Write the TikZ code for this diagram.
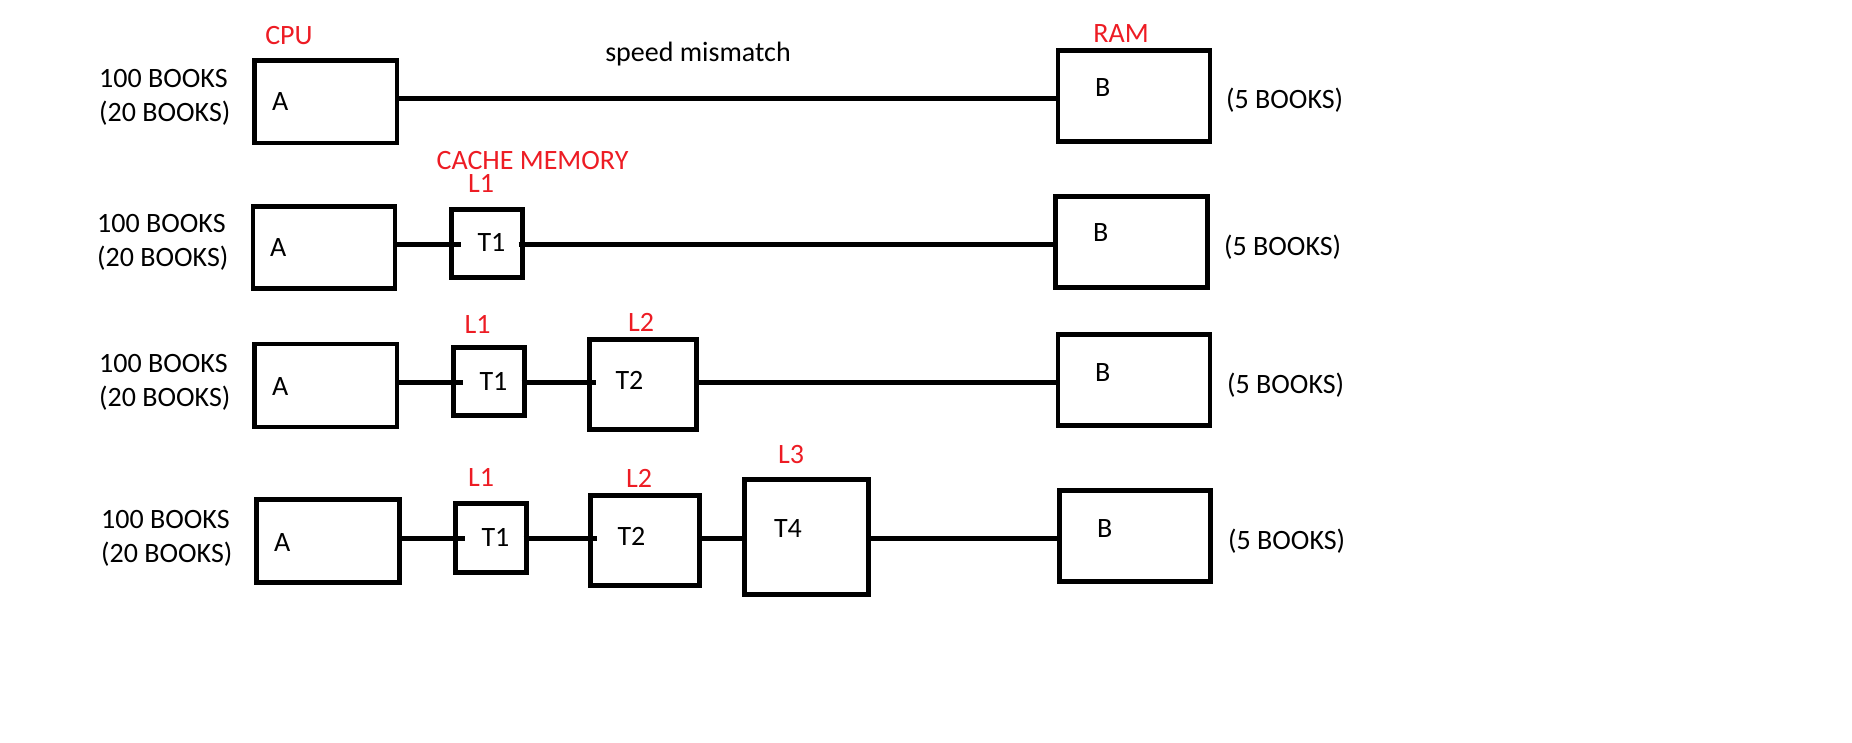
\documentclass[tikz,border=0pt]{standalone}
\usepackage{fontspec}
\setmainfont{Carlito}
\usetikzlibrary{calc}
\definecolor{paintred}{RGB}{237,28,36}

\begin{document}
\begin{tikzpicture}[x=1pt, y=-1pt,
  box/.style={draw=black, line width=4.7pt, inner sep=0pt, outer sep=0pt},
  wire/.style={draw=black, line width=4.7pt},
  txt/.style={inner sep=0pt, anchor=base west, font=\fontsize{28}{34}\selectfont},
  mid/.style={inner sep=0pt, anchor=base, font=\fontsize{28}{34}\selectfont},
  lvl/.style={mid, text=paintred}]
\useasboundingbox (0,0) rectangle (1852,743);

% left hand labels
\foreach \x/\y/\n in {99/88/1, 97/233/2, 99/372/3, 101/528/4} {
  \node[txt] (top\n) at (\x,\y) {100 BOOKS};
  \node[txt] (bot\n) at (\x,\y+34) {(20 BOOKS)};
}

% row 1 : cpu -- ram
\coordinate (r1) at (0,98.4);
\node[box, minimum width=142.5pt, minimum height=82.5pt] (a1) at (325.75,101.75) {};
\node[box, minimum width=152pt, minimum height=91pt] (b1) at (1134,96) {};
\node[txt] (a1t) at (272,111) {A};
\node[txt] (b1t) at (1095,97) {B};
\node[txt] (b1n) at (1226,109) {(5 BOOKS)};
\node[lvl] (cpu) at (289,45) {CPU};
\node[lvl] (ram) at (1121,43) {RAM};
\node[mid] (gap) at (698,62) {speed mismatch};
\draw[wire] (a1.east |- r1) -- (b1.west |- r1);

% row 2 : one cache level
\coordinate (r2) at (0,244.5);
\node[box, minimum width=142pt, minimum height=82pt] (a2) at (324,247.5) {};
\node[box, minimum width=71pt, minimum height=68pt] (c21) at (487,243.5) {};
\node[box, minimum width=152pt, minimum height=91pt] (b2) at (1131.5,242) {};
\node[txt] (a2t) at (270,257) {A};
\node[mid] (c21t) at (491.5,252) {T1};
\node[txt] (b2t) at (1093,242) {B};
\node[txt] (b2n) at (1224,255.7) {(5 BOOKS)};
\node[lvl] (cache) at (532.5,170) {CACHE MEMORY};
\node[lvl] (l21) at (481,193) {L1};
\draw[wire, shorten >=-9pt] (a2.east |- r2) -- (c21.west |- r2);
\draw[wire, shorten <=-4pt] (c21.east |- r2) -- (b2.west |- r2);

% row 3 : two cache levels
\coordinate (r3) at (0,382.5);
\node[box, minimum width=142.5pt, minimum height=83pt] (a3) at (325.75,385.5) {};
\node[box, minimum width=71pt, minimum height=68pt] (c31) at (489,381.5) {};
\node[box, minimum width=107pt, minimum height=90pt] (c32) at (643,384.5) {};
\node[box, minimum width=152pt, minimum height=91pt] (b3) at (1134,380) {};
\node[txt] (a3t) at (272,395) {A};
\node[mid] (c31t) at (493.5,390) {T1};
\node[mid] (c32t) at (629.5,389) {T2};
\node[txt] (b3t) at (1095,381) {B};
\node[txt] (b3n) at (1227,393) {(5 BOOKS)};
\node[lvl] (l31) at (477.5,333) {L1};
\node[lvl] (l32) at (641,331) {L2};
\draw[wire, shorten >=-9pt] (a3.east |- r3) -- (c31.west |- r3);
\draw[wire, shorten <=-3pt, shorten >=-6pt] (c31.east |- r3) -- (c32.west |- r3);
\draw[wire] (c32.east |- r3) -- (b3.west |- r3);

% row 4 : three cache levels
\coordinate (r4) at (0,538.5);
\node[box, minimum width=143pt, minimum height=83pt] (a4) at (328,541) {};
\node[box, minimum width=71pt, minimum height=69pt] (c41) at (491,538) {};
\node[box, minimum width=109pt, minimum height=90pt] (c42) at (645,540.5) {};
\node[box, minimum width=124pt, minimum height=115pt] (c43) at (806.5,537) {};
\node[box, minimum width=151pt, minimum height=91pt] (b4) at (1135,536) {};
\node[txt] (a4t) at (274,551) {A};
\node[mid] (c41t) at (495.5,546) {T1};
\node[mid] (c42t) at (631.5,545) {T2};
\node[mid] (c43t) at (788,537) {T4};
\node[txt] (b4t) at (1097,537) {B};
\node[txt] (b4n) at (1228,549) {(5 BOOKS)};
\node[lvl] (l41) at (481,486) {L1};
\node[lvl] (l42) at (639,487) {L2};
\node[lvl] (l43) at (791,463) {L3};
\draw[wire, shorten >=-9pt] (a4.east |- r4) -- (c41.west |- r4);
\draw[wire, shorten <=-3pt, shorten >=-6pt] (c41.east |- r4) -- (c42.west |- r4);
\draw[wire] (c42.east |- r4) -- (c43.west |- r4);
\draw[wire] (c43.east |- r4) -- (b4.west |- r4);

\end{tikzpicture}
\end{document}
